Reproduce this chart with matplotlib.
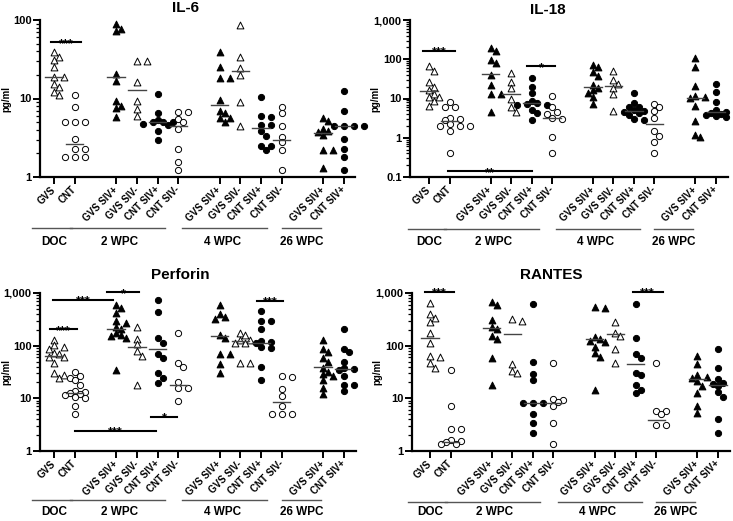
import numpy as np
import matplotlib
matplotlib.use('Agg')
import matplotlib.pyplot as plt
import matplotlib.transforms as mtransforms
from matplotlib.ticker import FixedLocator, LogLocator, NullFormatter, FuncFormatter

plt.rcParams['font.family'] = ['Liberation Sans', 'DejaVu Sans']
plt.rcParams['font.weight'] = 'bold'

# ---------------- data ----------------
positions = [0, 1, 3, 4, 5, 6, 8, 9, 10, 11, 13, 14]
tick_labels = ["GVS", "CNT", "GVS SIV+", "GVS SIV-", "CNT SIV+", "CNT SIV-",
               "GVS SIV+", "GVS SIV-", "CNT SIV+", "CNT SIV-", "GVS SIV+", "CNT SIV+"]
kinds = ['ot', 'oc', 'ft', 'ot', 'fc', 'oc', 'ft', 'ot', 'fc', 'oc', 'ft', 'fc']

groups = ['DOC', '2 WPC', '4 WPC', '26 WPC']
group_spans = [(-1.05, 0.85), (0.75, 5.35), (6.2, 10.3), (11.0, 12.9)]
group_centers = [0.0, 3.15, 8.15, 11.95]

il6_values = [
    [38.7, 33.4, 30.9, 24.9, 18.6, 18.6, 15.3, 13.9, 12.0, 11.2],
    [11.2, 7.9, 5.0, 5.0, 5.0, 3.05, 2.3, 2.3, 1.8, 1.8, 1.8],
    [89, 77, 72, 20.5, 16.5, 9.2, 8.1, 7.5, 5.75],
    [30.3, 30.3, 16.1, 9.2, 7.35, 6.0],
    [11.4, 6.5, 5.3, 5.0, 5.0, 5.0, 4.8, 4.6, 3.8, 2.96],
    [6.8, 6.7, 5.5, 5.0, 4.1, 2.3, 1.54, 1.24],
    [38.7, 25, 18.2, 18.2, 9.6, 7.0, 6.5, 5.6, 5.6, 5.0],
    [87, 34, 24.5, 20.1, 8.9, 4.5],
    [10.5, 6.0, 5.75, 4.6, 4.6, 3.8, 3.37, 2.5, 2.5, 2.2],
    [7.9, 6.5, 4.4, 3.27, 2.77, 2.2, 1.24],
    [5.65, 5.1, 4.1, 3.8, 3.7, 3.4, 2.2, 2.2, 1.3],
    [12.3, 7.0, 4.5, 4.5, 4.5, 4.5, 3.05, 2.28, 1.81, 1.24],
]
il6_medians = [18.6, 2.63, 19.0, 12.8, 5.0, 4.5, 8.3, 22.2, 4.2, 2.96, 3.6, 4.5]

il18_values = [
    [66, 49, 26, 20, 16.5, 13, 11, 10.7, 8.8, 6.6],
    [8.0, 6.0, 6.0, 3.2, 3.0, 2.8, 2.2, 2.0, 2.0, 2.0, 1.5, 0.4],
    [190, 165, 95, 79, 40, 22, 13, 13, 4.4],
    [44, 27, 18, 9.5, 6, 4.5],
    [33, 20, 14, 8.5, 7.5, 7.2, 7.0, 6.8, 5, 4.2, 2.8],
    [11.8, 6.0, 4.4, 4.0, 3.2, 3.0, 1.06, 0.40],
    [73, 62, 48, 38, 22, 18, 16, 14, 10.7, 7.3],
    [51, 30, 23.4, 18.6, 13, 4.9],
    [14, 7.5, 6.0, 6.0, 5.0, 4.7, 4.5, 4.2, 3.7, 3.0, 2.8],
    [7.2, 6.0, 4.9, 3.1, 1.45, 1.1, 0.78, 0.40],
    [105, 62, 21, 11.8, 11, 10.5, 6.6, 2.7, 1.2, 1.02],
    [23.4, 14.4, 8.0, 5.0, 4.6, 4.2, 4.0, 3.7, 3.5, 3.3],
]
il18_medians = [15.2, 2.6, 42, 13, 7.5, 3.2, 20, 21, 4.7, 2.24, 10.5, 4.45]

perforin_values = [
    [128, 101, 95, 88, 74, 68, 62, 62, 47.5, 30, 28, 24.7],
    [31.6, 26.6, 24.7, 22, 17.7, 13.8, 13, 12.5, 12, 11.4, 10.5, 10, 7.2, 5.0],
    [580, 510, 420, 290, 270, 230, 205, 175, 160, 155, 140, 34],
    [229, 136, 106, 79, 65, 17.9],
    [736, 443, 142, 114, 68, 59, 30, 24, 19.8],
    [175, 47, 39, 20, 15.5, 15.5, 9.0],
    [583, 393, 355, 316, 157, 142, 70, 68, 44, 30],
    [171, 157, 130, 128, 114, 114, 47, 46],
    [455, 294, 294, 204, 124, 117, 110, 95, 89, 39, 22],
    [26.6, 25, 14.8, 11, 7.2, 5, 5, 5],
    [130, 88, 76, 59, 48, 38, 31.6, 28.6, 27, 22, 15.9, 11.9],
    [204, 88, 76, 49, 38, 36, 35, 26, 17.7, 17.7, 13.8],
]
perforin_medians = [65, 12.8, 204, 94, 88, 17.7, 153, 123, 114, 8.6, 40, 35.5]

rantes_values = [
    [637, 394, 340, 281, 171, 111, 65, 62, 46, 38],
    [34, 7.1, 2.6, 2.6, 1.65, 1.55, 1.5, 1.36, 1.34],
    [675, 592, 307, 229, 204, 153, 132, 59, 17.7],
    [316, 294, 44, 33, 30],
    [610, 49, 28.6, 22, 8.3, 8.0, 8.0, 5.0, 3.35, 2.16],
    [47.5, 9.9, 9.3, 8.5, 7.1, 3.45, 1.34],
    [550, 525, 148, 132, 123, 115, 93, 72, 62, 14.4],
    [281, 171, 153, 88, 46],
    [610, 142, 68, 59, 30.7, 27.4, 17.7, 14.4, 12.4],
    [47.5, 5.75, 5.75, 5.0, 3.07, 3.07],
    [64, 44, 27.4, 25.8, 24.7, 21.4, 17.1, 12.8, 7.1, 5.2],
    [88, 38, 23, 19.3, 18.5, 17.1, 13.2, 10.7, 4.0, 2.16],
]
rantes_medians = [142, 1.46, 219, 164, 8.0, 8.0, 132, 164, 44, 3.9, 23, 17.7]

il6_sig = [(-0.16, 1.29, 52, '***')]
il18_sig = [(-0.29, 1.25, 165, '***'), (4.78, 6.16, 66, '*'), (0.93, 5.02, 0.14, '**')]
perforin_sig = [(-0.19, 1.1, 204, '***'), (-0.03, 2.84, 736, '***'), (2.55, 4.12, 1030, '*'),
                (9.82, 11.08, 705, '***'), (4.69, 5.96, 4.4, '*'), (1.01, 4.93, 2.4, '***')]
rantes_sig = [(-0.24, 1.18, 1045, '***'), (9.85, 11.31, 1045, '***')]

panels = [
    dict(title='IL-6', values=il6_values, medians=il6_medians, sig=il6_sig,
         rect=[40/733, 1-177/521, 315/733, 157/521], xlim=(-0.68, 14.54), ylim=(1, 100),
         yticks=[1, 10, 100], title_x=6.33, title_y=1.077, line_off=51, lab_off=65),
    dict(title='IL-18', values=il18_values, medians=il18_medians, sig=il18_sig,
         rect=[410/733, 1-177/521, 318/733, 157/521], xlim=(-0.93, 14.59), ylim=(0.1, 1000),
         yticks=[0.1, 1, 10, 100, 1000], title_x=5.8, title_y=1.065, line_off=52, lab_off=65),
    dict(title='Perforin', values=perforin_values, medians=perforin_medians, sig=perforin_sig,
         rect=[40/733, 1-451/521, 316/733, 158/521], xlim=(-0.68, 14.59), ylim=(1, 1000),
         yticks=[1, 10, 100, 1000], title_x=6.1, title_y=1.114, line_off=49, lab_off=61),
    dict(title='RANTES', values=rantes_values, medians=rantes_medians, sig=rantes_sig,
         rect=[412/733, 1-451/521, 318/733, 158/521], xlim=(-0.875, 14.58), ylim=(1, 1000),
         yticks=[1, 10, 100, 1000], title_x=5.9, title_y=1.114, line_off=51, lab_off=61),
]

fig = plt.figure(figsize=(7.33, 5.21), dpi=100)

marker_style = {
    'ot': dict(marker='^', facecolor='white', edgecolor='black', s=24),
    'ft': dict(marker='^', facecolor='black', edgecolor='black', s=24),
    'oc': dict(marker='o', facecolor='white', edgecolor='black', s=20),
    'fc': dict(marker='o', facecolor='black', edgecolor='black', s=20),
}


def ytick_fmt(v, pos):
    if v < 1:
        return '0.1'
    return f'{int(round(v)):,}'


def swarm_x(ax, pos, vals, diam=5.3, step=5.0):
    vals = np.asarray(vals, dtype=float)
    pts = ax.transData.transform(np.column_stack([np.full(len(vals), pos), vals]))
    order = np.argsort(-vals, kind='stable')
    placed = []
    xs = pts[:, 0].copy()
    for i in order:
        x0, y = pts[i]
        k = 0
        done = False
        while not done:
            cands = [0] if k == 0 else [k, -k]
            for c in cands:
                xc = x0 + c * step
                if all(np.hypot(xc - px, y - py) >= diam for px, py in placed):
                    xs[i] = xc
                    placed.append((xc, y))
                    done = True
                    break
            k += 1
    inv = ax.transData.inverted()
    return inv.transform(np.column_stack([xs, pts[:, 1]]))[:, 0]


for p in panels:
    ax = fig.add_axes(p['rect'])
    ax.set_yscale('log')
    ax.set_xlim(*p['xlim'])
    ax.set_ylim(*p['ylim'])
    for s in ['top', 'right']:
        ax.spines[s].set_visible(False)
    for s in ['left', 'bottom']:
        ax.spines[s].set_linewidth(1.6)
    ax.yaxis.set_major_locator(FixedLocator(p['yticks']))
    ax.yaxis.set_major_formatter(FuncFormatter(ytick_fmt))
    ax.yaxis.set_minor_locator(LogLocator(base=10, subs=np.arange(2, 10)))
    ax.yaxis.set_minor_formatter(NullFormatter())
    ax.tick_params(axis='y', which='major', length=5, width=1.4, labelsize=8, pad=1)
    ax.tick_params(axis='y', which='minor', length=3, width=0.9)
    ax.set_xticks(positions)
    ax.set_xticklabels(tick_labels, rotation=45, ha='right', va='center',
                       rotation_mode='anchor', fontsize=7, fontweight='bold')
    ax.tick_params(axis='x', length=5, width=1.4, pad=3)
    ax.set_ylabel('pg/ml', fontsize=7, fontweight='bold')
    ax.yaxis.set_label_coords(-0.092, 0.5)

    # data points
    for pos, kind, vals, med in zip(positions, kinds, p['values'], p['medians']):
        xs = swarm_x(ax, pos, vals)
        ax.scatter(xs, vals, linewidths=0.7, zorder=3, clip_on=False, **marker_style[kind])
        ax.plot([pos - 0.42, pos + 0.42], [med, med], color='#444444', lw=1.0, zorder=4)

    # significance bars
    for x0, x1, yv, txt in p['sig']:
        ax.plot([x0, x1], [yv, yv], color='black', lw=1.5, clip_on=False, zorder=5)
        ax.annotate(txt, xy=((x0 + x1) / 2, yv), xytext=(0, -3.2), textcoords='offset points',
                    ha='center', va='baseline', fontsize=9, fontweight='bold',
                    annotation_clip=False)

    # title
    tr = mtransforms.blended_transform_factory(ax.transData, ax.transAxes)
    ax.text(p['title_x'], p['title_y'], p['title'], transform=tr, ha='center', va='center',
            fontsize=11, fontweight='bold')

    # group lines and labels
    h = p['rect'][3] * 521
    y_line = -(p['line_off'] / h)
    y_lab = -(p['lab_off'] / h)
    for name, (a, b), c in zip(groups, group_spans, group_centers):
        ax.plot([a, b], [y_line, y_line], transform=tr, color='#555555', lw=1.0, clip_on=False)
        ax.text(c, y_lab, name, transform=tr, ha='center', va='center',
                fontsize=8.5, fontweight='bold')

fig.savefig('out.png', dpi=100)
